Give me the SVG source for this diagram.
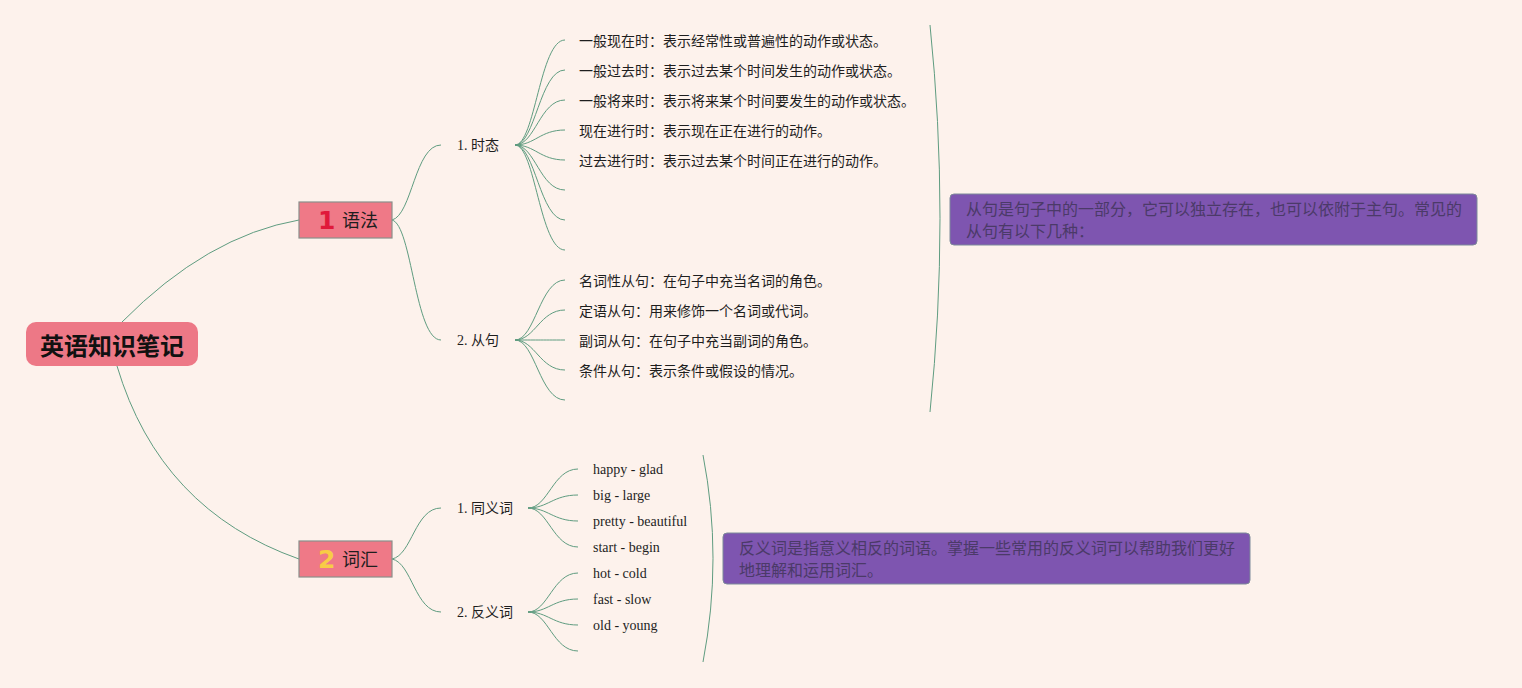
<svg xmlns="http://www.w3.org/2000/svg" width="1522" height="688" viewBox="0 0 1522 688">
<style>
.bg{fill:#fdf2ec}
.ln{fill:none;stroke:#5f9c80;stroke-width:1}
.main{fill:#ef7987;stroke:#8a8f8a;stroke-width:1.2}
.t{font-family:"Liberation Serif","Noto Sans CJK SC",serif;font-size:14px;fill:#1e1e1e}
.mt{font-family:"Noto Sans CJK SC",sans-serif;font-size:18px;fill:#1e1e1e}
.num{font-family:"DejaVu Sans","Liberation Sans",sans-serif;font-size:25px;font-weight:bold}
.sum{fill:#7e55b0;stroke:#7d8a9a;stroke-width:1}
.st{font-family:"Noto Sans CJK SC",sans-serif;font-size:16px;fill:#4b3a68}
</style>
<rect class="bg" x="0" y="0" width="1522" height="688"/>
<g id="connectors">
<path class="ln" d="M122,322 Q207,236 299,220"/>
<path class="ln" d="M117,366 Q160,510 299,559"/>
<path class="ln" d="M392,220 C412,215 415,145 441,145"/>
<path class="ln" d="M392,220 C412,225 415,340 441,340"/>
<path class="ln" d="M392,559 C412,555 415,508 441,508"/>
<path class="ln" d="M392,559 C412,563 415,612 441,612"/>
<path class="ln" d="M515,145 C535,145 540,40 565,40"/>
<path class="ln" d="M515,145 C535,145 540,70 565,70"/>
<path class="ln" d="M515,145 C535,145 540,100 565,100"/>
<path class="ln" d="M515,145 C535,145 540,130 565,130"/>
<path class="ln" d="M515,145 C535,145 540,160 565,160"/>
<path class="ln" d="M515,145 C535,145 540,190 565,190"/>
<path class="ln" d="M515,145 C535,145 540,220 565,220"/>
<path class="ln" d="M515,145 C535,145 540,250 565,250"/>
<path class="ln" d="M515,340 C535,340 540,280 565,280"/>
<path class="ln" d="M515,340 C535,340 540,310 565,310"/>
<path class="ln" d="M515,340 C535,340 540,340 565,340"/>
<path class="ln" d="M515,340 C535,340 540,370 565,370"/>
<path class="ln" d="M515,340 C535,340 540,400 565,400"/>
<path class="ln" d="M528,508 C548,508 553,469 578,469"/>
<path class="ln" d="M528,508 C548,508 553,495 578,495"/>
<path class="ln" d="M528,508 C548,508 553,521 578,521"/>
<path class="ln" d="M528,508 C548,508 553,547 578,547"/>
<path class="ln" d="M528,612 C548,612 553,573 578,573"/>
<path class="ln" d="M528,612 C548,612 553,599 578,599"/>
<path class="ln" d="M528,612 C548,612 553,625 578,625"/>
<path class="ln" d="M528,612 C548,612 553,651 578,651"/>
<path class="ln" d="M930,25 Q950,218 930,412"/>
<path class="ln" d="M703,455 Q723,558 703,662"/>
</g>
<g id="root">
<rect x="26" y="322" width="172" height="44" rx="10" fill="#ed7886"/>
<text x="112" y="355" text-anchor="middle" font-family="Noto Sans CJK SC,sans-serif" font-size="24" font-weight="bold" fill="#111">英语知识笔记</text>
</g>
<g id="grammar">
<rect class="main" x="299" y="202" width="93" height="36"/>
<text class="num" x="318" y="229" fill="#e0193a">1</text>
<text class="mt" x="342" y="227">语法</text>
</g>
<g id="vocab">
<rect class="main" x="299" y="541" width="93" height="36"/>
<text class="num" x="318" y="568" fill="#f8cc46">2</text>
<text class="mt" x="342" y="566">词汇</text>
</g>
<g id="tense"><text class="t" x="457" y="150">1. 时态</text></g>
<g id="tense-items">
<text class="t" x="579" y="46">一般现在时：表示经常性或普遍性的动作或状态。</text>
<text class="t" x="579" y="76">一般过去时：表示过去某个时间发生的动作或状态。</text>
<text class="t" x="579" y="106">一般将来时：表示将来某个时间要发生的动作或状态。</text>
<text class="t" x="579" y="136">现在进行时：表示现在正在进行的动作。</text>
<text class="t" x="579" y="166">过去进行时：表示过去某个时间正在进行的动作。</text>
</g>
<g id="clause"><text class="t" x="457" y="345">2. 从句</text></g>
<g id="clause-items">
<text class="t" x="579" y="286">名词性从句：在句子中充当名词的角色。</text>
<text class="t" x="579" y="316">定语从句：用来修饰一个名词或代词。</text>
<text class="t" x="579" y="346">副词从句：在句子中充当副词的角色。</text>
<text class="t" x="579" y="376">条件从句：表示条件或假设的情况。</text>
</g>
<g id="synonym"><text class="t" x="457" y="513">1. 同义词</text></g>
<g id="synonym-items">
<text class="t" x="593" y="474">happy - glad</text>
<text class="t" x="593" y="500">big - large</text>
<text class="t" x="593" y="526">pretty - beautiful</text>
<text class="t" x="593" y="552">start - begin</text>
</g>
<g id="antonym"><text class="t" x="457" y="617">2. 反义词</text></g>
<g id="antonym-items">
<text class="t" x="593" y="578">hot - cold</text>
<text class="t" x="593" y="604">fast - slow</text>
<text class="t" x="593" y="630">old - young</text>
</g>
<g id="summary-clause">
<rect class="sum" x="950" y="194" width="527" height="51" rx="4"/>
<text class="st" x="966" y="215">从句是句子中的一部分，它可以独立存在，也可以依附于主句。常见的</text>
<text class="st" x="966" y="237">从句有以下几种：</text>
</g>
<g id="summary-antonym">
<rect class="sum" x="723" y="533" width="527" height="51" rx="4"/>
<text class="st" x="739" y="554">反义词是指意义相反的词语。掌握一些常用的反义词可以帮助我们更好</text>
<text class="st" x="739" y="576">地理解和运用词汇。</text>
</g>
</svg>
